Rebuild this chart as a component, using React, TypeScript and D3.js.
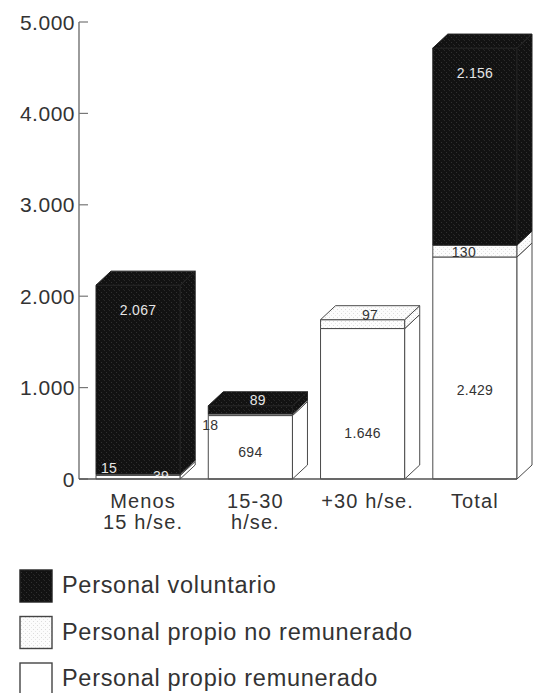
import React from "react";
import * as d3 from "d3";

// ---- data ----
const categories = ["Menos 15 h/se.", "15-30 h/se.", "+30 h/se.", "Total"];
const categoryLines = [["Menos", "15 h/se."], ["15-30", "h/se."], ["+30 h/se."], ["Total"]];
const remunerado = [39, 694, 1646, 2429];
const noRemunerado = [15, 18, 97, 130];
const voluntario = [2067, 89, 0, 2156];
const yTicks = [0, 1000, 2000, 3000, 4000, 5000];
const legendNames = ["Personal voluntario", "Personal propio no remunerado", "Personal propio remunerado"];

// ---- layout ----
const W = 536;
const H = 693;
const DX = 15;
const DY = 14;
const FONT = "'Liberation Sans', Arial, Helvetica, sans-serif";
const INK = "#333";
const EDGE = "#4a4a4a";

const fmt = d3.formatLocale({ decimal: ",", thousands: ".", grouping: [3], currency: ["", ""] }).format(",d");

const y = d3.scaleLinear().domain([0, 5000]).range([479, 22]);
const x = d3.scaleBand<string>().domain(categories).range([96, 517]).paddingInner(0.25).paddingOuter(0);

type Seg = { key: string; v: number; y0: number; y1: number; fill: string };

const fills = { rem: "#ffffff", nor: "url(#stipple)", vol: "url(#darkTex)" };

export default function App() {
  const bw = x.bandwidth();
  const base = y(0);

  const bars = categories.map((c, i) => {
    const x0 = x(c)!;
    const x1 = x0 + bw;
    const vals = [
      { key: "rem", v: remunerado[i] },
      { key: "nor", v: noRemunerado[i] },
      { key: "vol", v: voluntario[i] },
    ];
    let acc = 0;
    const segs: Seg[] = [];
    vals.forEach((s) => {
      if (s.v <= 0) return;
      segs.push({ key: s.key, v: s.v, y0: acc, y1: acc + s.v, fill: (fills as any)[s.key] });
      acc += s.v;
    });
    return { c, i, x0, x1, segs, total: acc };
  });

  // label placement rules (pixel offsets relative to anchors)
  const labels: { t: string; x: number; y: number; light: boolean }[] = [];
  bars.forEach((b) => {
    const cx = (b.x0 + b.x1) / 2;
    b.segs.forEach((s, si) => {
      const isTop = si === b.segs.length - 1;
      const yTop = y(s.y1);
      const yBot = y(s.y0);
      const mid = (yTop + yBot) / 2;
      let lx = cx;
      let ly = mid + 5;
      let light = s.key === "vol";
      if (s.key === "vol") {
        if (yBot - yTop > 60) { ly = yTop + 30; }
        else { lx = cx + DX / 2; ly = yTop - 1; }
      } else if (s.key === "nor") {
        if (b.i === 0) { lx = b.x0 + 13; ly = base - 6; light = true; }
        else if (isTop) { lx = cx + DX / 2; ly = yTop; }
        else if (b.i === 1) { lx = b.x0 + 2; ly = yTop + 16; }
        else { lx = cx - 11; ly = yBot; }
      } else {
        if (b.i === 0) { lx = b.x0 + 65; ly = base + 2; light = true; }
        else if (b.i === 1) { ly = mid + 10; }
        else if (b.i === 2) { ly = mid + 34; }
        else { ly = mid + 27; }
      }
      labels.push({ t: fmt(s.v), x: lx, y: ly, light });
    });
  });

  return (
    <div style={{ position: "absolute", left: 0, top: 0 }}>
      <svg width={W} height={H} style={{ display: "block", background: "#fff" }}>
        <defs>
          <pattern id="stipple" width="4" height="4" patternUnits="userSpaceOnUse">
            <rect width="4" height="4" fill="#fcfcfc" />
            <rect x="1" y="1" width="1" height="1" fill="#dcdcdc" />
            <rect x="3" y="3" width="1" height="1" fill="#e6e6e6" />
          </pattern>
          <pattern id="darkTex" width="5" height="5" patternUnits="userSpaceOnUse">
            <rect width="5" height="5" fill="#121212" />
            <rect x="1" y="2" width="1" height="1" fill="#303030" />
            <rect x="3" y="4" width="1" height="1" fill="#262626" />
            <rect x="4" y="0" width="1" height="1" fill="#2a2a2a" />
          </pattern>
          <clipPath id="plotClip">
            <rect x={80} y={0} width={W} height={base} />
          </clipPath>
        </defs>

        {/* y axis */}
        <line x1={79} x2={79} y1={y(5000)} y2={base} stroke="#666" strokeWidth={1.3} />
        {yTicks.map((t) => (
          <g key={t}>
            <line x1={79} x2={88} y1={y(t)} y2={y(t)} stroke="#777" strokeWidth={1.2} />
            <text x={75} y={y(t) + 7.5} textAnchor="end" fontFamily={FONT} fontSize={21} fill={INK} letterSpacing={0.5}>
              {fmt(t)}
            </text>
          </g>
        ))}

        {/* bars */}
        {bars.map((b) => {
          const topSeg = b.segs[b.segs.length - 1];
          const yt = y(b.total);
          return (
            <g key={b.c} stroke={EDGE} strokeWidth={1} strokeLinejoin="round">
              {b.segs.map((s) => {
                const ya = y(s.y1);
                const yb = y(s.y0);
                const sideStroke = s.key === "vol" ? "#222" : EDGE;
                return (
                  <g key={s.key}>
                    <rect x={b.x0} y={ya} width={bw} height={yb - ya} fill={s.fill} stroke={sideStroke} />
                    <path
                      d={`M${b.x1},${yb}L${b.x1 + DX},${yb - DY}L${b.x1 + DX},${ya - DY}L${b.x1},${ya}Z`}
                      fill={s.fill}
                      stroke={sideStroke}
                    />
                  </g>
                );
              })}
              <path
                d={`M${b.x0},${yt}L${b.x0 + DX},${yt - DY}L${b.x1 + DX},${yt - DY}L${b.x1},${yt}Z`}
                fill={topSeg.fill}
                stroke={topSeg.key === "vol" ? "#222" : EDGE}
              />
            </g>
          );
        })}

        {/* value labels */}
        <g clipPath="url(#plotClip)">
          {labels.map((l, k) => (
            <text
              key={k}
              x={l.x}
              y={l.y}
              textAnchor="middle"
              fontFamily={FONT}
              fontSize={14}
              letterSpacing={0.3}
              fill={l.light ? "#e6e6e6" : "#333"}
            >
              {l.t}
            </text>
          ))}
        </g>

        {/* baseline */}
        <line x1={79} x2={x(categories[3])! + bw} y1={base} y2={base} stroke="#555" strokeWidth={1.5} />

        {/* category labels */}
        {categories.map((c, i) => (
          <text key={c} textAnchor="middle" fontFamily={FONT} fontSize={20} fill={INK} letterSpacing={1.1}>
            {categoryLines[i].map((ln, j) => (
              <tspan key={j} x={x(c)! + bw / 2 + (i === 3 ? 0 : 5)} y={base + 29 + j * 21}>
                {ln}
              </tspan>
            ))}
          </text>
        ))}

        {/* legend */}
        {legendNames.map((n, i) => {
          const ly = 570 + i * 46.5;
          const f = i === 0 ? "url(#darkTex)" : i === 1 ? "url(#stipple)" : "#fff";
          return (
            <g key={n}>
              <rect x={20} y={ly} width={32} height={32} fill={f} stroke={i === 0 ? "#222" : "#444"} strokeWidth={1.4} />
              <text x={62} y={ly + 23} fontFamily={FONT} fontSize={23.5} fill={INK} letterSpacing={0.7}>
                {n}
              </text>
            </g>
          );
        })}
      </svg>
    </div>
  );
}
